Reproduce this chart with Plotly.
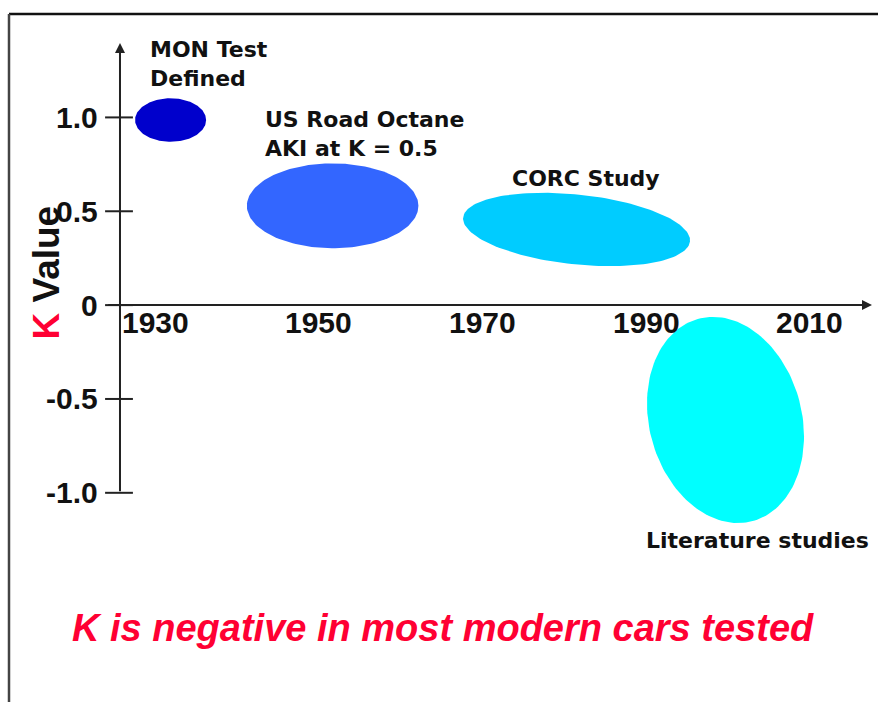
import numpy as np
import plotly.graph_objects as go

# ---------------- data ----------------
ellipse_names = ["MON Test<br>Defined", "US Road Octane<br>AKI at K = 0.5", "CORC Study", "Literature studies"]
center_year = [1931.9, 1951.7, 1981.5, 1999.7]
center_k = [0.986, 0.529, 0.403, -0.612]
half_years = [4.34, 10.48, 13.93, 9.32]
half_k = [0.116, 0.226, 0.186, 0.558]
tilt_deg = [0, 0, 6, -15]

x_ticks = [1930, 1950, 1970, 1990, 2010]
x_tick_labels = ["1930", "1950", "1970", "1990", "2010"]
y_ticks = [1.0, 0.5, 0, -0.5, -1.0]
y_tick_labels = ["1.0", "0.5", "0", "-0.5", "-1.0"]

# ---------------- layout constants ----------------
W, H = 878, 702
X0, X1 = 1911.06, 2018.33
Y0, Y1 = -2.1145, 1.6255
PPX = W / (X1 - X0)
PPY = H / (Y1 - Y0)

colors = ["#0000CC", "#3366FF", "#00CCFF", "#00FFFF"]
label_pos = [(1929.1, 1.282), (1943.2, 0.914), (1973.4, 0.677), (1989.7, -1.252)]

AXIS_YEAR = 1925.72
AXIS_TOP = 1.396
X_AXIS_START = 1924.1
X_AXIS_END = 2017.6
TICK_Y0, TICK_Y1 = 1923.9, 1927.3
YLABEL_X = 1923.3
XLABEL_K = -0.095

fig = go.Figure()

t = np.linspace(0, 2 * np.pi, 160)
for cx, cy, hx, hy, ang, col, name in zip(center_year, center_k, half_years, half_k,
                                          tilt_deg, colors, ellipse_names):
    rx, ry = hx * PPX, hy * PPY
    th = np.deg2rad(ang)
    ex, ey = rx * np.cos(t), ry * np.sin(t)
    X = ex * np.cos(th) - ey * np.sin(th)
    Y = ex * np.sin(th) + ey * np.cos(th)
    fig.add_trace(go.Scatter(x=cx + X / PPX, y=cy - Y / PPY, mode="lines",
                             fill="toself", fillcolor=col, line=dict(width=0, color=col),
                             hoverinfo="skip", showlegend=False, name=name.replace("<br>", " ")))

annotations = []
# axis lines with arrowheads
annotations.append(dict(x=AXIS_YEAR, y=AXIS_TOP, ax=AXIS_YEAR, ay=-1.0, xref="x", yref="y",
                        axref="x", ayref="y", text="", showarrow=True, arrowhead=2,
                        arrowsize=1, arrowwidth=2, arrowcolor="#222222", standoff=0))
annotations.append(dict(x=X_AXIS_END, y=0, ax=X_AXIS_START, ay=0, xref="x", yref="y",
                        axref="x", ayref="y", text="", showarrow=True, arrowhead=2,
                        arrowsize=1, arrowwidth=2, arrowcolor="#222222", standoff=0))

tick_font = dict(family="Liberation Sans, Arial", size=30, color="#111111")
for v, lab in zip(y_ticks, y_tick_labels):
    annotations.append(dict(x=YLABEL_X, y=v, xref="x", yref="y", text="<b>%s</b>" % lab,
                            showarrow=False, xanchor="right", yanchor="middle", font=tick_font))
for v, lab in zip(x_ticks, x_tick_labels):
    annotations.append(dict(x=v, y=XLABEL_K, xref="x", yref="y", text="<b>%s</b>" % lab,
                            showarrow=False, xanchor="center", yanchor="middle", font=tick_font))

label_font = dict(family="DejaVu Sans", size=22, color="#111111")
for (lx, ly), name in zip(label_pos, ellipse_names):
    annotations.append(dict(x=lx, y=ly, xref="x", yref="y", text="<b>%s</b>" % name,
                            showarrow=False, xanchor="left", yanchor="middle", align="left",
                            font=label_font))

# y-axis title
annotations.append(dict(x=46 / W, y=1 - 272.5 / H, xref="paper", yref="paper",
                        text="<b><span style='color:#FF0033'>K</span> Value</b>",
                        textangle=-90, showarrow=False, xanchor="center", yanchor="middle",
                        font=dict(family="Liberation Sans, Arial", size=37, color="#111111")))

# bottom note
note = "<b><i>K is negative in most modern cars tested</i></b>"
annotations.append(dict(x=443 / W, y=1 - 628 / H, xref="paper", yref="paper", text=note,
                        showarrow=False, xanchor="center", yanchor="middle",
                        font=dict(family="Liberation Sans, Arial", size=38, color="#FF0033")))

shapes = []
for v in y_ticks:
    shapes.append(dict(type="line", xref="x", yref="y", x0=TICK_Y0, x1=TICK_Y1, y0=v, y1=v,
                       line=dict(color="#222222", width=2)))
# slide frame (top and left edges)
shapes.append(dict(type="line", xref="paper", yref="paper", x0=9 / W, x1=1, y0=1 - 14 / H, y1=1 - 14 / H,
                   line=dict(color="#111111", width=2.5)))
shapes.append(dict(type="line", xref="paper", yref="paper", x0=9 / W, x1=9 / W, y0=0, y1=1 - 14 / H,
                   line=dict(color="#444444", width=2.5)))

fig.update_layout(
    width=W, height=H,
    margin=dict(l=0, r=0, t=0, b=0),
    paper_bgcolor="white", plot_bgcolor="white",
    xaxis=dict(range=[X0, X1], visible=False, fixedrange=True),
    yaxis=dict(range=[Y0, Y1], visible=False, fixedrange=True),
    annotations=annotations, shapes=shapes, showlegend=False,
)

fig.write_html("out.html", config={"displayModeBar": False},
               post_script="document.body.style.margin='0px';document.body.style.overflow='hidden';")
